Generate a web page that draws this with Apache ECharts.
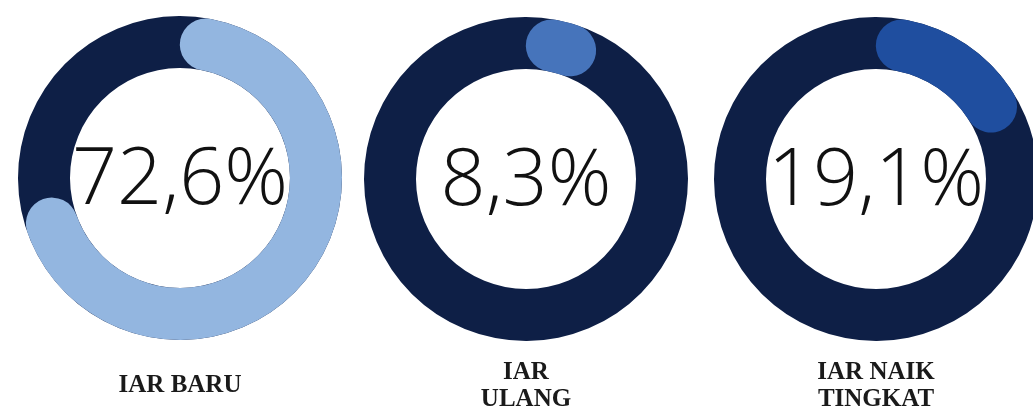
<!DOCTYPE html>
<html>
<head>
<meta charset="utf-8">
<script src="https://cdn.jsdelivr.net/npm/echarts@6/dist/echarts.min.js"></script>
<style>
  html, body { margin: 0; padding: 0; background: #fff; }
  #main { width: 1033px; height: 415px; }
</style>
</head>
<body>
<div id="main"></div>
<script>
// data
var names = ['IAR BARU', 'IAR\nULANG', 'IAR NAIK\nTINGKAT'];
var values = [72.6, 8.3, 19.1];
var barColors = ['#93b6e0', '#4674bb', '#1f4e9f'];

var centers = [[180, 178], [526, 179], [876, 179]];
var trackColor = '#0e1f46';

var outerR = 162, ringW = 52;
// round caps sit inside the arc: shift the start and the scale by the cap angle
var capDeg = (ringW / 2) / (outerR - ringW / 2) * 180 / Math.PI;
var capPct = capDeg / 3.6;

var myChart = echarts.init(document.getElementById('main'));

var series = names.map(function (name, i) {
  return {
    type: 'gauge',
    center: centers[i],
    radius: outerR,
    startAngle: 90 - capDeg,
    endAngle: -270 - capDeg,
    min: 2 * capPct,
    max: 100 + 2 * capPct,
    pointer: {show: false},
    axisTick: {show: false},
    splitLine: {show: false},
    axisLabel: {show: false},
    axisLine: {lineStyle: {width: ringW, color: [[1, trackColor]]}},
    progress: {show: true, roundCap: true, width: ringW, itemStyle: {color: barColors[i]}},
    anchor: {show: false},
    title: {
      offsetCenter: [0, '128%'],
      fontFamily: 'Liberation Serif',
      fontWeight: 'bold',
      fontSize: 25,
      lineHeight: 27,
      color: '#1a1a1a'
    },
    detail: {
      offsetCenter: [0, '2%'],
      fontFamily: 'Open Sans',
      fontWeight: 300,
      fontSize: 79,
      color: '#111',
      formatter: function (v) {
        return v.toFixed(1).replace('.', ',') + '%';
      }
    },
    data: [{value: values[i], name: name}]
  };
});

myChart.setOption({animation: false, series: series});
</script>
</body>
</html>
